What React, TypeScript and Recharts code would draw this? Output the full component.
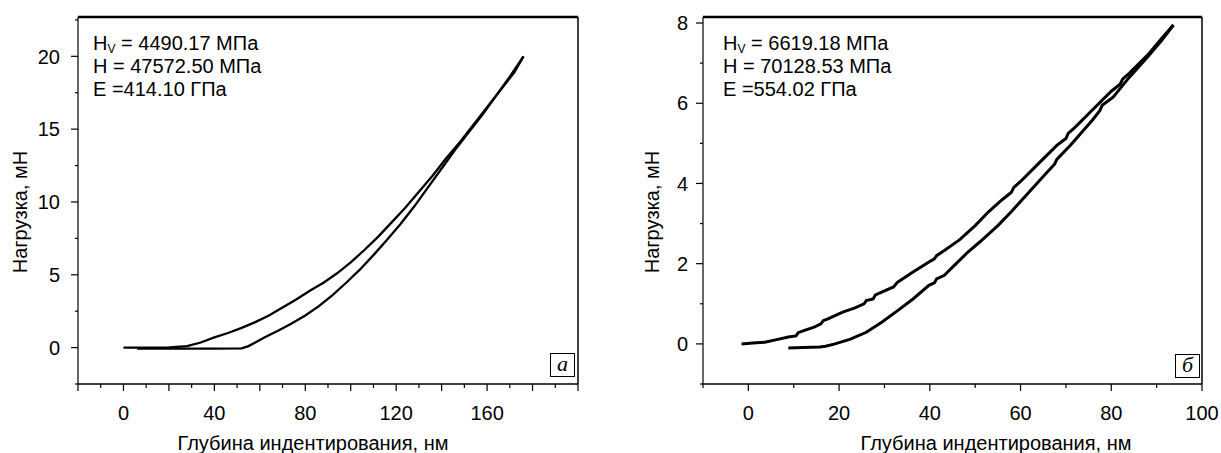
import React from "react";
import { LineChart, Line, XAxis, YAxis, ReferenceLine } from "recharts";

// panel "а": load / unload curves (depth nm, load mN)
const loadA = [
  { x: 0, y: 0 }, { x: 10, y: 0 }, { x: 20, y: 0.02 }, { x: 28, y: 0.1 }, { x: 34, y: 0.35 },
  { x: 40, y: 0.7 }, { x: 46, y: 1.0 }, { x: 52, y: 1.35 }, { x: 58, y: 1.75 }, { x: 64, y: 2.2 },
  { x: 70, y: 2.75 }, { x: 76, y: 3.3 }, { x: 82, y: 3.9 }, { x: 88, y: 4.45 }, { x: 94, y: 5.1 },
  { x: 100, y: 5.85 }, { x: 106, y: 6.7 }, { x: 112, y: 7.6 }, { x: 118, y: 8.6 }, { x: 124, y: 9.6 },
  { x: 130, y: 10.7 }, { x: 136, y: 11.8 }, { x: 142, y: 13.0 }, { x: 148, y: 14.1 }, { x: 154, y: 15.3 },
  { x: 160, y: 16.5 }, { x: 166, y: 17.7 }, { x: 172, y: 18.9 }, { x: 176, y: 20 },
];
const unloadA = [
  { x: 176, y: 20 }, { x: 170, y: 18.6 }, { x: 164, y: 17.3 }, { x: 158, y: 16.0 }, { x: 152, y: 14.8 },
  { x: 146, y: 13.6 }, { x: 140, y: 12.3 }, { x: 134, y: 11.0 }, { x: 128, y: 9.7 }, { x: 122, y: 8.5 },
  { x: 116, y: 7.4 }, { x: 110, y: 6.35 }, { x: 104, y: 5.35 }, { x: 98, y: 4.45 }, { x: 92, y: 3.6 },
  { x: 86, y: 2.85 }, { x: 80, y: 2.2 }, { x: 74, y: 1.65 }, { x: 68, y: 1.15 }, { x: 62, y: 0.7 },
  { x: 58, y: 0.35 }, { x: 55, y: 0.1 }, { x: 52, y: -0.05 }, { x: 40, y: -0.07 }, { x: 25, y: -0.07 },
  { x: 6, y: -0.07 },
];

// panel "б" (noisy trace, steps kept where they show)
const loadB = [
  { x: -1.5, y: 0 }, { x: 1, y: 0.02 }, { x: 3.6, y: 0.04 }, { x: 6, y: 0.1 }, { x: 8.8, y: 0.17 },
  { x: 10.5, y: 0.2 }, { x: 11, y: 0.28 }, { x: 12.2, y: 0.33 }, { x: 14.5, y: 0.42 }, { x: 16, y: 0.5 },
  { x: 16.5, y: 0.58 }, { x: 17.4, y: 0.62 }, { x: 20.8, y: 0.79 }, { x: 23.5, y: 0.9 }, { x: 25.5, y: 1.0 },
  { x: 26, y: 1.08 }, { x: 27.5, y: 1.12 }, { x: 28, y: 1.22 }, { x: 29.4, y: 1.29 }, { x: 32, y: 1.42 },
  { x: 32.9, y: 1.54 }, { x: 36.3, y: 1.79 }, { x: 39.8, y: 2.04 }, { x: 41, y: 2.12 }, { x: 41.5, y: 2.2 },
  { x: 43.2, y: 2.33 }, { x: 46.6, y: 2.6 }, { x: 50, y: 2.95 }, { x: 53, y: 3.3 }, { x: 56, y: 3.6 },
  { x: 58, y: 3.78 }, { x: 58.5, y: 3.9 }, { x: 60, y: 4.05 }, { x: 64, y: 4.5 }, { x: 68, y: 4.95 },
  { x: 70, y: 5.12 }, { x: 70.5, y: 5.25 }, { x: 72, y: 5.4 }, { x: 76, y: 5.85 }, { x: 80, y: 6.3 },
  { x: 82, y: 6.48 }, { x: 82.5, y: 6.6 }, { x: 84, y: 6.75 }, { x: 88, y: 7.2 }, { x: 91, y: 7.6 },
  { x: 93.7, y: 7.95 },
];
const unloadB = [
  { x: 93.7, y: 7.95 }, { x: 91, y: 7.55 }, { x: 88, y: 7.15 }, { x: 84, y: 6.65 }, { x: 80.4, y: 6.15 },
  { x: 78, y: 5.95 }, { x: 77.5, y: 5.82 }, { x: 76, y: 5.6 }, { x: 71, y: 4.95 }, { x: 68, y: 4.6 },
  { x: 67.5, y: 4.48 }, { x: 66, y: 4.3 }, { x: 62, y: 3.8 }, { x: 58, y: 3.3 }, { x: 55, y: 2.95 },
  { x: 51, y: 2.54 }, { x: 48.4, y: 2.29 }, { x: 45.8, y: 2.0 }, { x: 43.2, y: 1.71 }, { x: 41.5, y: 1.62 },
  { x: 41, y: 1.52 }, { x: 39.8, y: 1.46 }, { x: 36.3, y: 1.12 }, { x: 32.9, y: 0.83 }, { x: 29.4, y: 0.54 },
  { x: 26, y: 0.29 }, { x: 22.5, y: 0.12 }, { x: 19.1, y: 0 }, { x: 17, y: -0.06 }, { x: 15.7, y: -0.08 },
  { x: 12, y: -0.09 }, { x: 8.8, y: -0.1 },
];

const xTicksA = [-20, -10, 0, 10, 20, 30, 40, 50, 60, 70, 80, 90, 100, 110, 120, 130, 140, 150, 160, 170, 180, 190, 200];
const xLabelsA = [0, 40, 80, 120, 160];
const yTicksA = [-2.5, 0, 2.5, 5, 7.5, 10, 12.5, 15, 17.5, 20, 22.5];
const yLabelsA = [0, 5, 10, 15, 20];

const xTicksB = [-10, 0, 10, 20, 30, 40, 50, 60, 70, 80, 90, 100];
const xLabelsB = [0, 20, 40, 60, 80, 100];
const yTicksB = [-1, 0, 1, 2, 3, 4, 5, 6, 7, 8];
const yLabelsB = [0, 2, 4, 6, 8];

const FONT = "'Liberation Sans', Arial, sans-serif";

const XTick = (props: any) => {
  const { x, y, payload, labels } = props;
  const v = payload.value;
  const major = labels.includes(v) || v % 20 === 0;
  return (
    <g>
      <line x1={x} x2={x} y1={y} y2={y + (major ? 7 : 4)} stroke="#000" strokeWidth={1.2} />
      {labels.includes(v) && (
        <text x={x} y={y + 36} textAnchor="middle" fontSize={20} fontFamily={FONT} fill="#000">
          {v}
        </text>
      )}
    </g>
  );
};

const YTick = (props: any) => {
  const { x, y, payload, labels, gap } = props;
  const v = payload.value;
  const major = labels.includes(v);
  return (
    <g>
      <line x1={x} x2={x - (major ? 7 : 3)} y1={y} y2={y} stroke="#000" strokeWidth={1.2} />
      {major && (
        <text x={x - gap} y={y} dy="0.36em" textAnchor="end" fontSize={20} fontFamily={FONT} fill="#000">
          {v}
        </text>
      )}
    </g>
  );
};

const note: React.CSSProperties = {
  position: "absolute",
  fontFamily: FONT,
  fontSize: 20,
  lineHeight: "23px",
  color: "#000",
  whiteSpace: "nowrap",
};

const sub: React.CSSProperties = { fontSize: 12, position: "relative", top: 3, lineHeight: 0 };

const tag: React.CSSProperties = {
  position: "absolute",
  width: 23,
  height: 22,
  border: "1px solid #000",
  fontFamily: "'Liberation Serif', 'Times New Roman', serif",
  fontStyle: "italic",
  fontSize: 22,
  lineHeight: "20px",
  textAlign: "center",
  background: "#fff",
};

const yTitle: React.CSSProperties = {
  position: "absolute",
  fontFamily: FONT,
  fontSize: 20,
  whiteSpace: "nowrap",
  transform: "translate(-50%, -50%) rotate(-90deg)",
};

const xTitle: React.CSSProperties = {
  position: "absolute",
  fontFamily: FONT,
  fontSize: 20,
  whiteSpace: "nowrap",
  transform: "translate(-50%, -50%)",
};

export default function App() {
  return (
    <div style={{ position: "absolute", left: 0, top: 0, width: 1221, height: 453, background: "#fff", overflow: "hidden" }}>
      <div style={{ position: "absolute", left: 0, top: 0 }}>
        <LineChart width={610} height={453} margin={{ top: 17, right: 32, left: 0, bottom: 0 }}>
          <XAxis
            type="number"
            dataKey="x"
            domain={[-20, 200]}
            ticks={xTicksA}
            interval={0}
            allowDataOverflow
            height={69}
            tickSize={0}
            tickMargin={0}
            tickLine={false}
            axisLine={{ stroke: "#000", strokeWidth: 1.5 }}
            tick={<XTick labels={xLabelsA} />}
          />
          <YAxis
            type="number"
            domain={[-2.5, 22.7]}
            ticks={yTicksA}
            interval={0}
            allowDataOverflow
            width={78}
            tickSize={0}
            tickMargin={0}
            tickLine={false}
            axisLine={{ stroke: "#000", strokeWidth: 1.2 }}
            tick={<YTick labels={yLabelsA} gap={18} />}
          />
          <ReferenceLine y={22.7} stroke="#000" strokeWidth={2.5} />
          <ReferenceLine x={200} stroke="#000" strokeWidth={1.5} />
          <Line data={loadA} dataKey="y" type="linear" dot={false} stroke="#000" strokeWidth={2.3} isAnimationActive={false} />
          <Line data={unloadA} dataKey="y" type="linear" dot={false} stroke="#000" strokeWidth={2.3} isAnimationActive={false} />
        </LineChart>
      </div>
      <div style={{ position: "absolute", left: 610, top: 0 }}>
        <LineChart width={611} height={453} margin={{ top: 17, right: 19, left: 0, bottom: 0 }}>
          <XAxis
            type="number"
            dataKey="x"
            domain={[-10, 100]}
            ticks={xTicksB}
            interval={0}
            allowDataOverflow
            height={69}
            tickSize={0}
            tickMargin={0}
            tickLine={false}
            axisLine={{ stroke: "#000", strokeWidth: 1.5 }}
            tick={<XTick labels={xLabelsB} />}
          />
          <YAxis
            type="number"
            domain={[-1, 8.15]}
            ticks={yTicksB}
            interval={0}
            allowDataOverflow
            width={93}
            tickSize={0}
            tickMargin={0}
            tickLine={false}
            axisLine={{ stroke: "#000", strokeWidth: 1.2 }}
            tick={<YTick labels={yLabelsB} gap={15} />}
          />
          <ReferenceLine y={8.15} stroke="#000" strokeWidth={2.5} />
          <ReferenceLine x={100} stroke="#000" strokeWidth={1.5} />
          <Line data={loadB} dataKey="y" type="linear" dot={false} stroke="#000" strokeWidth={3} isAnimationActive={false} />
          <Line data={unloadB} dataKey="y" type="linear" dot={false} stroke="#000" strokeWidth={3} isAnimationActive={false} />
        </LineChart>
      </div>

      <div style={{ ...note, left: 93, top: 32 }}>
        H<span style={sub}>V</span> = 4490.17 МПа<br />
        H = 47572.50 МПа<br />E =414.10 ГПа
      </div>
      <div style={{ ...note, left: 723, top: 32 }}>
        H<span style={sub}>V</span> = 6619.18 МПа<br />
        H = 70128.53 МПа<br />E =554.02 ГПа
      </div>

      <div style={{ ...yTitle, left: 20, top: 212 }}>Нагрузка, мН</div>
      <div style={{ ...yTitle, left: 652, top: 212 }}>Нагрузка, мН</div>
      <div style={{ ...xTitle, left: 313, top: 443 }}>Глубина индентирования, нм</div>
      <div style={{ ...xTitle, left: 996, top: 443 }}>Глубина индентирования, нм</div>

      <div style={{ ...tag, left: 550, top: 353 }}>a</div>
      <div style={{ ...tag, left: 1175, top: 354 }}>б</div>
    </div>
  );
}
